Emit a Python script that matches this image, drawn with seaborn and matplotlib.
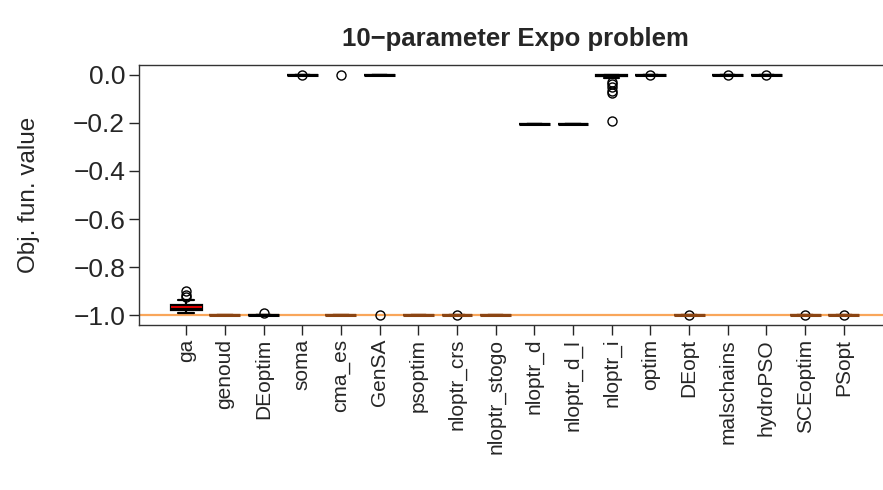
import numpy as np
import pandas as pd
import matplotlib
matplotlib.use("Agg")
import matplotlib.pyplot as plt
import seaborn as sns

# values per algorithm
algos = ["ga", "genoud", "DEoptim", "soma", "cma_es", "GenSA", "psoptim",
         "nloptr_crs", "nloptr_stogo", "nloptr_d", "nloptr_d_l", "nloptr_i",
         "optim", "DEopt", "malschains", "hydroPSO", "SCEoptim", "PSopt"]

ga = [-0.989, -0.985, -0.981, -0.979, -0.978, -0.976, -0.973, -0.970, -0.967, -0.965,
      -0.964, -0.963, -0.962, -0.960, -0.959, -0.950, -0.935, -0.925, -0.915, -0.898]
genoud = [-1.0, -1.0, -1.0, -1.0, -1.0, -1.0, -1.0, -1.0, -1.0, -1.0]
DEoptim = [-1.0, -0.9998, -0.9997, -0.9996, -0.9995, -0.9995, -0.9994, -0.9993, -0.9992, -0.9990, -0.990]
soma = [0.0, 0.0, 0.0, 0.0, 0.0, 0.0, 0.0, 0.0, 0.0, -0.001]
cma_es = [-1.0, -1.0, -1.0, -1.0, -1.0, -1.0, -1.0, -1.0, -1.0, 0.0]
GenSA = [0.0, 0.0, 0.0, 0.0, 0.0, 0.0, 0.0, 0.0, 0.0, -1.0]
psoptim = [-1.0, -1.0, -1.0, -1.0, -1.0, -1.0, -1.0, -1.0, -1.0, -1.0]
nloptr_crs = [-1.0, -1.0, -1.0, -1.0, -1.0, -1.0, -1.0, -1.0, -1.0, -0.998]
nloptr_stogo = [-1.0, -1.0, -1.0, -1.0, -1.0, -1.0, -1.0, -1.0, -1.0, -1.0]
nloptr_d = [-0.207, -0.207, -0.207, -0.207, -0.207, -0.207, -0.207, -0.207, -0.207, -0.207]
nloptr_d_l = [-0.207, -0.207, -0.207, -0.207, -0.207, -0.207, -0.207, -0.207, -0.207, -0.207]
nloptr_i = [-0.194, -0.075, -0.066, -0.052, -0.040, -0.030, -0.012, -0.006, -0.005, -0.004,
            -0.003, -0.002, -0.002, -0.001, -0.001, 0.0, 0.0, 0.0, 0.0, 0.0,
            0.0, 0.0, 0.0, 0.0, 0.0, 0.0, 0.0, 0.0, 0.0, 0.0]
optim = [0.0, 0.0, 0.0, 0.0, 0.0, 0.0, 0.0, 0.0, 0.0, -0.001]
DEopt = [-1.0, -1.0, -1.0, -1.0, -1.0, -1.0, -1.0, -1.0, -1.0, -0.999]
malschains = [0.0, 0.0, 0.0, 0.0, 0.0, 0.0, 0.0, 0.0, 0.0, -0.001]
hydroPSO = [0.0, 0.0, 0.0, 0.0, 0.0, 0.0, 0.0, 0.0, 0.0, -0.001]
SCEoptim = [-1.0, -1.0, -1.0, -1.0, -1.0, -1.0, -1.0, -1.0, -1.0, -0.999]
PSopt = [-1.0, -1.0, -1.0, -1.0, -1.0, -1.0, -1.0, -1.0, -1.0, -0.999]

brown_algos = ["genoud", "cma_es", "psoptim", "nloptr_crs", "nloptr_stogo",
               "DEopt", "SCEoptim", "PSopt"]
black_algos = ["DEoptim", "soma", "GenSA", "nloptr_d", "nloptr_d_l", "nloptr_i",
               "optim", "malschains", "hydroPSO"]
red_algos = ["ga"]

global_opt = -1.0
yticks = [0.0, -0.2, -0.4, -0.6, -0.8, -1.0]

#################### DATA FRAME ####################
values = {"ga": ga, "genoud": genoud, "DEoptim": DEoptim, "soma": soma, "cma_es": cma_es,
          "GenSA": GenSA, "psoptim": psoptim, "nloptr_crs": nloptr_crs,
          "nloptr_stogo": nloptr_stogo, "nloptr_d": nloptr_d, "nloptr_d_l": nloptr_d_l,
          "nloptr_i": nloptr_i, "optim": optim, "DEopt": DEopt, "malschains": malschains,
          "hydroPSO": hydroPSO, "SCEoptim": SCEoptim, "PSopt": PSopt}
df = pd.DataFrame([(k, v) for k in algos for v in values[k]], columns=["algo", "value"])

#################### PLOT ####################
sns.set_style("ticks")
plt.rcParams["font.family"] = ["Liberation Sans", "DejaVu Sans"]

fig = plt.figure(figsize=(8.83, 4.9), dpi=100)
ax = fig.add_axes([139 / 883, 165 / 490, 752 / 883, 260 / 490])

ax.axhline(global_opt, color="#F9A65A", lw=1.6, zorder=0.5)

brown = "#8B4513"
flier = dict(marker="o", markerfacecolor="none", markeredgecolor="black",
             markersize=6.5, markeredgewidth=1)

groups = [(brown_algos, brown, brown, brown, 2.2),
          (black_algos, "black", "black", "black", 2.2),
          (red_algos, "black", "black", "#E00000", 1.4)]
for names, face, edge, med, mlw in groups:
    sub = df[df["algo"].isin(names)]
    sns.boxplot(data=sub, x="algo", y="value", order=algos, ax=ax, width=0.8,
                color=face, linecolor=edge, linewidth=1.6, saturation=1,
                medianprops=dict(color=med, linewidth=mlw),
                flierprops=flier, zorder=2)

ax.set_xlim(-1.22, 18.22)
ax.set_ylim(-1.04, 0.04)
ax.set_yticks(yticks)
ax.set_yticklabels([f"{t:.1f}".replace("-", "\u2212") for t in yticks])
ax.tick_params(axis="y", labelsize=19, length=7, width=1, pad=3)
ax.tick_params(axis="x", labelsize=15, length=7, width=1, rotation=90, pad=3)
ax.set_xlabel("")
ax.set_ylabel("Obj. fun. value", fontsize=17.5, labelpad=24)
ax.set_title("10\u2212parameter Expo problem", fontsize=18.5, fontweight="bold", pad=14)

for s in ["left", "top", "bottom"]:
    ax.spines[s].set_visible(True)
    ax.spines[s].set_color("#333333")
    ax.spines[s].set_linewidth(1)
ax.spines["right"].set_visible(False)

fig.savefig("out.png", dpi=100)
